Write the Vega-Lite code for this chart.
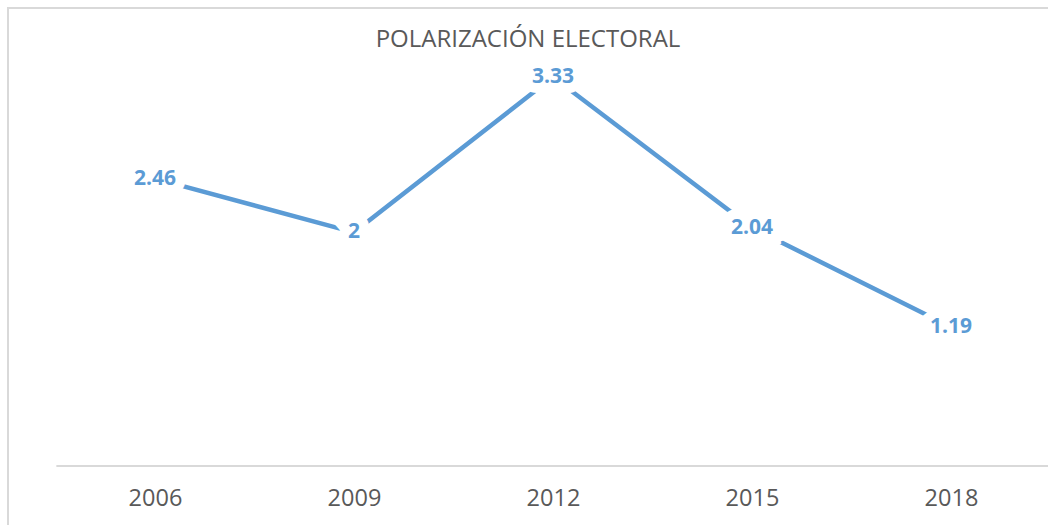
{
  "$schema": "https://vega.github.io/schema/vega-lite/v6.json",
  "autosize": {"type": "none"},
  "padding": {"left": 8, "top": 8, "right": 0, "bottom": 59},
  "width": 1040,
  "height": 458,
  "background": "white",
  "title": {
    "text": "POLARIZACIÓN ELECTORAL",
    "orient": "top",
    "anchor": "middle",
    "offset": -45,
    "font": "Open Sans",
    "fontSize": 24,
    "fontWeight": "normal",
    "color": "#595959"
  },
  "config": {
    "view": {"stroke": null},
    "axisX": {
      "domain": false,
      "ticks": false,
      "tickSize": 0,
      "grid": false,
      "labelFont": "Open Sans",
      "labelFontSize": 23.5,
      "labelColor": "#595959",
      "labelPadding": 20,
      "labelFlush": false,
      "labelOverlap": false
    }
  },
  "data": {
    "values": [
      {"year": 2006, "value": 2.46},
      {"year": 2009, "value": 2},
      {"year": 2012, "value": 3.33},
      {"year": 2015, "value": 2.04},
      {"year": 2018, "value": 1.19}
    ]
  },
  "layer": [
    {
      "mark": {"type": "rect", "fill": "white", "fillOpacity": 0, "stroke": "#d9d9d9", "strokeWidth": 1.5},
      "encoding": {
        "x": {"datum": 2003.784, "type": "quantitative", "scale": {"domain": [2003.784, 2019.463], "nice": false, "zero": false}, "axis": {"title": null, "values": [2006, 2009, 2012, 2015, 2018], "format": "d"}},
        "x2": {"datum": 2030},
        "y": {"datum": -2, "type": "quantitative", "scale": {"domain": [0, 3.921], "nice": false, "zero": false}, "axis": null},
        "y2": {"datum": 3.921}
      }
    },
    {
      "mark": {"type": "rule", "stroke": "#d9d9d9", "strokeWidth": 2},
      "encoding": {
        "x": {"datum": 2004.52, "type": "quantitative"},
        "x2": {"datum": 2019.463},
        "y": {"datum": 0, "type": "quantitative"}
      }
    },
    {
      "mark": {"type": "line", "stroke": "#5B9BD5", "strokeWidth": 4.5},
      "encoding": {
        "x": {"field": "year", "type": "quantitative"},
        "y": {"field": "value", "type": "quantitative"}
      }
    },
    {
      "mark": {"type": "text", "font": "Open Sans", "fontSize": 21, "fontWeight": "bold", "fill": "white", "stroke": "white", "strokeWidth": 20, "strokeJoin": "miter", "baseline": "middle", "align": "center"},
      "encoding": {
        "x": {"field": "year", "type": "quantitative"},
        "y": {"field": "value", "type": "quantitative"},
        "text": {"field": "value", "type": "quantitative"}
      }
    },
    {
      "mark": {"type": "text", "font": "Open Sans", "fontSize": 21, "fontWeight": "bold", "fill": "#5B9BD5", "baseline": "middle", "align": "center"},
      "encoding": {
        "x": {"field": "year", "type": "quantitative"},
        "y": {"field": "value", "type": "quantitative"},
        "text": {"field": "value", "type": "quantitative"}
      }
    }
  ]
}
